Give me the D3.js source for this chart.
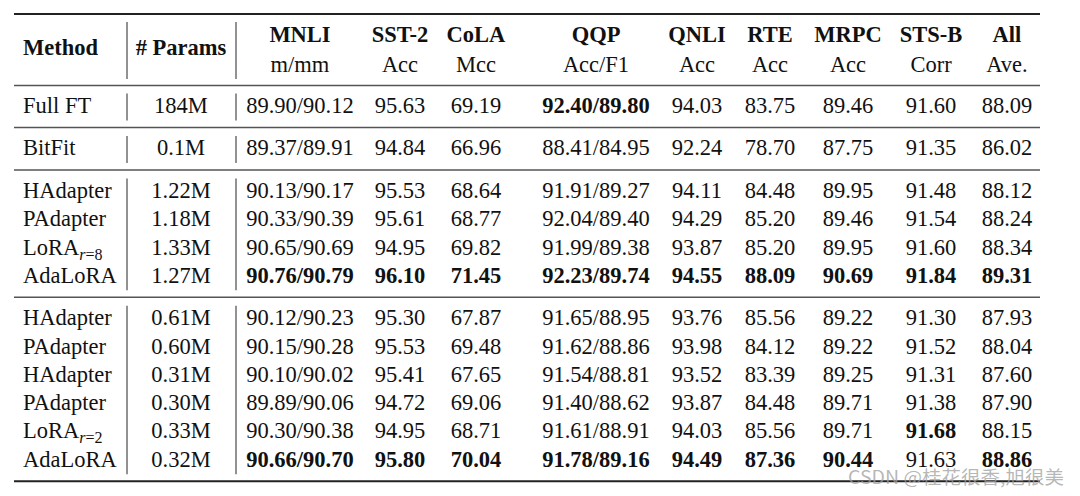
<!DOCTYPE html>
<html>
<head>
<meta charset="utf-8">
<script src="https://cdn.jsdelivr.net/npm/d3@7"></script>
<style>
  html, body { margin: 0; padding: 0; background: #fff; }
  svg { display: block; }
</style>
</head>
<body>
<svg id="table" width="1080" height="496"></svg>
<script>
// ---- Table data ----
const taskNames = ["MNLI", "SST-2", "CoLA", "QQP", "QNLI", "RTE", "MRPC", "STS-B", "All"];
const metricNames = ["m/mm", "Acc", "Mcc", "Acc/F1", "Acc", "Acc", "Acc", "Corr", "Ave."];

const methods = ["Full FT", "BitFit", "HAdapter", "PAdapter", "LoRA", "AdaLoRA",
                 "HAdapter", "PAdapter", "HAdapter", "PAdapter", "LoRA", "AdaLoRA"];
const methodSub = [null, null, null, null, "8", null, null, null, null, null, "2", null];
const params = ["184M", "0.1M", "1.22M", "1.18M", "1.33M", "1.27M",
                "0.61M", "0.60M", "0.31M", "0.30M", "0.33M", "0.32M"];
const groups = [0, 1, 2, 2, 2, 2, 3, 3, 3, 3, 3, 3];

const mnli = ["89.90/90.12", "89.37/89.91", "90.13/90.17", "90.33/90.39", "90.65/90.69", "90.76/90.79",
              "90.12/90.23", "90.15/90.28", "90.10/90.02", "89.89/90.06", "90.30/90.38", "90.66/90.70"];
const sst2 = ["95.63", "94.84", "95.53", "95.61", "94.95", "96.10", "95.30", "95.53", "95.41", "94.72", "94.95", "95.80"];
const cola = ["69.19", "66.96", "68.64", "68.77", "69.82", "71.45", "67.87", "69.48", "67.65", "69.06", "68.71", "70.04"];
const qqp = ["92.40/89.80", "88.41/84.95", "91.91/89.27", "92.04/89.40", "91.99/89.38", "92.23/89.74",
             "91.65/88.95", "91.62/88.86", "91.54/88.81", "91.40/88.62", "91.61/88.91", "91.78/89.16"];
const qnli = ["94.03", "92.24", "94.11", "94.29", "93.87", "94.55", "93.76", "93.98", "93.52", "93.87", "94.03", "94.49"];
const rte = ["83.75", "78.70", "84.48", "85.20", "85.20", "88.09", "85.56", "84.12", "83.39", "84.48", "85.56", "87.36"];
const mrpc = ["89.46", "87.75", "89.95", "89.46", "89.95", "90.69", "89.22", "89.22", "89.25", "89.71", "89.71", "90.44"];
const stsb = ["91.60", "91.35", "91.48", "91.54", "91.60", "91.84", "91.30", "91.52", "91.31", "91.38", "91.68", "91.63"];
const allAve = ["88.09", "86.02", "88.12", "88.24", "88.34", "89.31", "87.93", "88.04", "87.60", "87.90", "88.15", "88.86"];

// best results (row index, task index) set in bold
const boldCells = [
  [0, 3],
  [5, 0], [5, 1], [5, 2], [5, 3], [5, 4], [5, 5], [5, 6], [5, 7], [5, 8],
  [10, 7],
  [11, 0], [11, 1], [11, 2], [11, 3], [11, 4], [11, 5], [11, 6], [11, 8]
];

const columns = [mnli, sst2, cola, qqp, qnli, rte, mrpc, stsb, allAve];

// ---- Layout ----
const FONT = "'Liberation Serif', 'Times New Roman', serif";
const FS = 22.5;
const left = 14, right = 1040;
const methodX = 23, paramsX = 181;
const vLines = [127, 236];

const x = d3.scaleOrdinal()
  .domain(taskNames)
  .range([300, 400, 476, 596, 697, 770, 848, 931, 1007]);

// row baseline: row index plus half a row per group break
const y = d3.scaleLinear().domain([0, 1]).range([113, 141.3]);
const rowY = (i) => y(i + groups[i] * 0.5);

const svg = d3.select("#table");
const boldSet = new Set(boldCells.map(d => d[0] + "-" + d[1]));

// ---- Header ----
const head = svg.append("g").attr("font-family", FONT).attr("font-size", FS).attr("fill", "#111");

head.append("text").attr("x", methodX).attr("y", 55).attr("font-weight", "bold").text("Method");
head.append("text").attr("x", paramsX).attr("y", 55).attr("text-anchor", "middle")
  .attr("font-weight", "bold").text("# Params");

head.selectAll("text.task")
  .data(taskNames)
  .join("text")
  .attr("class", "task")
  .attr("x", d => x(d))
  .attr("y", 42)
  .attr("text-anchor", "middle")
  .attr("font-weight", "bold")
  .text(d => d);

head.selectAll("text.metric")
  .data(metricNames)
  .join("text")
  .attr("class", "metric")
  .attr("x", (d, i) => x(taskNames[i]))
  .attr("y", 72)
  .attr("text-anchor", "middle")
  .text(d => d);

// ---- Body ----
const body = svg.append("g").attr("font-family", FONT).attr("font-size", FS).attr("fill", "#111");

const mText = body.selectAll("text.method")
  .data(methods)
  .join("text")
  .attr("class", "method")
  .attr("x", methodX)
  .attr("y", (d, i) => rowY(i))
  .text(d => d);

mText.filter((d, i) => methodSub[i] !== null)
  .each(function (d, i) {
    const idx = methods.indexOf(d); // not used for lookup, keep sub from datum below
  });

mText.each(function (d, i) {
  if (methodSub[i] === null) return;
  const t = d3.select(this);
  t.append("tspan").attr("dy", 5).attr("font-size", 16).attr("font-style", "italic").text("r");
  t.append("tspan").attr("font-size", 16).text("=" + methodSub[i]);
});

body.selectAll("text.params")
  .data(params)
  .join("text")
  .attr("class", "params")
  .attr("x", paramsX)
  .attr("y", (d, i) => rowY(i))
  .attr("text-anchor", "middle")
  .text(d => d);

const cells = [];
columns.forEach((col, c) => col.forEach((v, r) => cells.push({ r, c, v })));

body.selectAll("text.cell")
  .data(cells)
  .join("text")
  .attr("class", "cell")
  .attr("x", d => x(taskNames[d.c]))
  .attr("y", d => rowY(d.r))
  .attr("text-anchor", "middle")
  .attr("font-weight", d => boldSet.has(d.r + "-" + d.c) ? "bold" : "normal")
  .text(d => d.v);

// ---- Rules ----
const groupIds = Array.from(new Set(groups));
const groupSpans = groupIds.map(g => {
  const rows = d3.range(methods.length).filter(i => groups[i] === g);
  return { first: d3.min(rows), last: d3.max(rows) };
});

const rules = svg.append("g");
rules.append("line").attr("x1", left).attr("x2", right).attr("y1", 14).attr("y2", 14)
  .attr("stroke", "#222").attr("stroke-width", 2);
rules.append("line").attr("x1", left).attr("x2", right).attr("y1", 85.5).attr("y2", 85.5)
  .attr("stroke", "#555").attr("stroke-width", 1.4);

rules.selectAll("line.sep")
  .data(groupSpans)
  .join("line")
  .attr("class", "sep")
  .attr("x1", left)
  .attr("x2", right)
  .attr("y1", (d, i) => rowY(d.last) + 14.5)
  .attr("y2", (d, i) => rowY(d.last) + 14.5)
  .attr("stroke", (d, i) => i === groupSpans.length - 1 ? "#222" : "#555")
  .attr("stroke-width", (d, i) => i === groupSpans.length - 1 ? 2 : 1.4);

// vertical separators, broken at each horizontal rule
const vSegs = [];
vLines.forEach(vx => {
  vSegs.push({ x: vx, y1: 22, y2: 79 });
  groupSpans.forEach(s => vSegs.push({ x: vx, y1: rowY(s.first) - 19.5, y2: rowY(s.last) + 7.5 }));
});

rules.selectAll("line.v")
  .data(vSegs)
  .join("line")
  .attr("class", "v")
  .attr("x1", d => d.x).attr("x2", d => d.x)
  .attr("y1", d => d.y1).attr("y2", d => d.y2)
  .attr("stroke", "#777")
  .attr("stroke-width", 1.6);

// ---- Watermark ----
svg.append("text")
  .attr("x", 848)
  .attr("y", 484)
  .attr("font-family", "'Noto Sans CJK SC', 'Noto Sans', sans-serif")
  .attr("font-size", 18)
  .attr("fill", "rgba(160,160,160,0.75)")
  .attr("textLength", 216)
  .attr("lengthAdjust", "spacingAndGlyphs")
  .text("CSDN @桂花很香,旭很美");
</script>
</body>
</html>
